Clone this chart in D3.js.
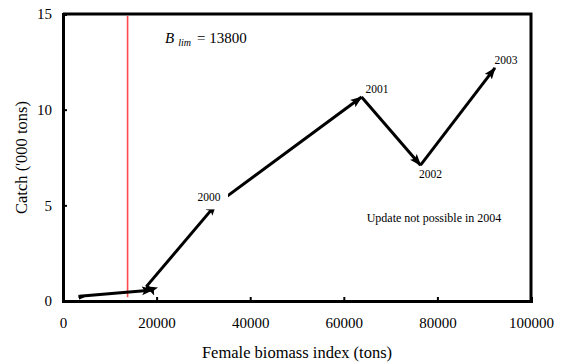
<!DOCTYPE html>
<html>
<head>
<meta charset="utf-8">
<script src="https://cdn.jsdelivr.net/npm/d3@7"></script>
<style>
  html, body { margin: 0; padding: 0; background: #fff; }
  svg { display: block; }
  svg text { font-family: "Liberation Serif", "Times New Roman", Times, serif; fill: #000; }
</style>
</head>
<body>
<svg id="chart" width="564" height="364"></svg>
<script>
// Female biomass index (tons) and catch ('000 tons), in time order
const biomass = [3500, 19200, 17800, 32700, 63800, 76400, 92300];
const catchK = [0.25, 0.58, 0.75, 5.05, 10.66, 7.1, 12.18];
const yearLabels = ["", "", "", "2000", "2001", "2002", "2003"];

const xTicks = [0, 20000, 40000, 60000, 80000, 100000];
const yTicks = [0, 5, 10, 15];
const bLim = 13800;

const svg = d3.select("#chart");
const margin = { left: 63, right: 33, top: 14, bottom: 63 };
const W = 564, H = 364;

const x = d3.scaleLinear().domain([0, 100000]).range([margin.left, W - margin.right]);
const y = d3.scaleLinear().domain([0, 15]).range([H - margin.bottom, margin.top]);

// arrowheads
const defs = svg.append("defs");
defs.append("marker")
  .attr("id", "head")
  .attr("markerUnits", "userSpaceOnUse")
  .attr("viewBox", "0 -5 12 10")
  .attr("refX", 11).attr("refY", 0)
  .attr("markerWidth", 12).attr("markerHeight", 10)
  .attr("orient", "auto")
  .append("path").attr("d", "M0,-4.5L12,0L0,4.5L2.5,0Z").attr("fill", "#000");

defs.append("marker")
  .attr("id", "tail")
  .attr("markerUnits", "userSpaceOnUse")
  .attr("viewBox", "0 -4 8 8")
  .attr("refX", 1).attr("refY", 0)
  .attr("markerWidth", 8).attr("markerHeight", 8)
  .attr("orient", "auto")
  .append("path").attr("d", "M0,-1.5L0,3.5L6,1.5Z").attr("fill", "#000");

// B_lim reference line
svg.append("line")
  .attr("x1", x(bLim)).attr("x2", x(bLim))
  .attr("y1", y(14.9)).attr("y2", y(0.2))
  .attr("stroke", "#ff4b4b").attr("stroke-width", 1.6);

// frame: top and right
svg.append("path")
  .attr("d", `M${x(0)},${y(15)}H${x(100000)}V${y(0)}`)
  .attr("fill", "none").attr("stroke", "#000").attr("stroke-width", 3);

// axes
const xAxis = d3.axisBottom(x).tickValues(xTicks).tickSize(-4).tickPadding(16)
  .tickFormat(d3.format("d"));
const gx = svg.append("g").attr("transform", `translate(0,${y(0)})`).call(xAxis);
gx.select(".domain").attr("stroke-width", 3);
gx.selectAll(".tick line").attr("stroke-width", 2);
gx.selectAll(".tick text").attr("font-size", 15);

const yAxis = d3.axisLeft(y).tickValues(yTicks).tickSize(-4).tickPadding(11);
const gy = svg.append("g").attr("transform", `translate(${x(0)},0)`).call(yAxis);
gy.select(".domain").attr("stroke-width", 3);
gy.selectAll(".tick line").attr("stroke-width", 2);
gy.selectAll(".tick text").attr("font-size", 15);
gx.selectAll(".tick").filter(d => d === 0).select("line").remove();
gy.selectAll(".tick").filter(d => d === 0 || d === 15).select("line").remove();

// trajectory as arrows between consecutive years
const pts = biomass.map((b, i) => ({ b, c: catchK[i], label: yearLabels[i] }));
const segs = d3.pairs(pts);
svg.append("g").selectAll("line").data(segs).join("line")
  .attr("x1", d => x(d[0].b)).attr("y1", d => y(d[0].c))
  .attr("x2", d => x(d[1].b)).attr("y2", d => y(d[1].c))
  .attr("stroke", "#000").attr("stroke-width", 3)
  .attr("marker-end", "url(#head)")
  .attr("marker-start", (d, i) => i === 0 ? "url(#tail)" : null);

// year labels
const labelPos = {
  "2000": { dx: -7, dy: -3, anchor: "middle", box: true },
  "2001": { dx: 4, dy: -4, anchor: "start" },
  "2002": { dx: 10, dy: 13, anchor: "middle" },
  "2003": { dx: 11, dy: -4, anchor: "middle" }
};
const lg = svg.append("g");
pts.filter(p => p.label).forEach(p => {
  const o = labelPos[p.label];
  const px = x(p.b), py = y(p.c);
  if (o.box) {
    lg.append("rect")
      .attr("x", px - 22).attr("y", py - 17)
      .attr("width", 34).attr("height", 22)
      .attr("fill", "#fff");
  }
  lg.append("text")
    .attr("x", px + o.dx).attr("y", py + o.dy)
    .attr("text-anchor", o.anchor)
    .attr("font-size", 11.5)
    .text(p.label);
});

// B_lim annotation
const bt = svg.append("text").attr("x", 165).attr("y", 43).attr("font-size", 15);
bt.append("tspan").attr("font-style", "italic").text("B");
bt.append("tspan").attr("font-style", "italic").attr("font-size", 10).attr("dx", 4).attr("dy", 3).text("lim");
bt.append("tspan").attr("dx", 6).attr("dy", -3).text("= " + bLim);

svg.append("text")
  .attr("x", 434).attr("y", 222)
  .attr("text-anchor", "middle").attr("font-size", 12)
  .text("Update not possible in 2004");

// axis titles
svg.append("text")
  .attr("x", (x(0) + x(100000)) / 2).attr("y", 358)
  .attr("text-anchor", "middle").attr("font-size", 16.5)
  .text("Female biomass index (tons)");

svg.append("text")
  .attr("transform", `translate(27,${(y(0) + y(15)) / 2}) rotate(-90)`)
  .attr("text-anchor", "middle").attr("font-size", 16.5)
  .text("Catch ('000 tons)");
</script>
</body>
</html>
